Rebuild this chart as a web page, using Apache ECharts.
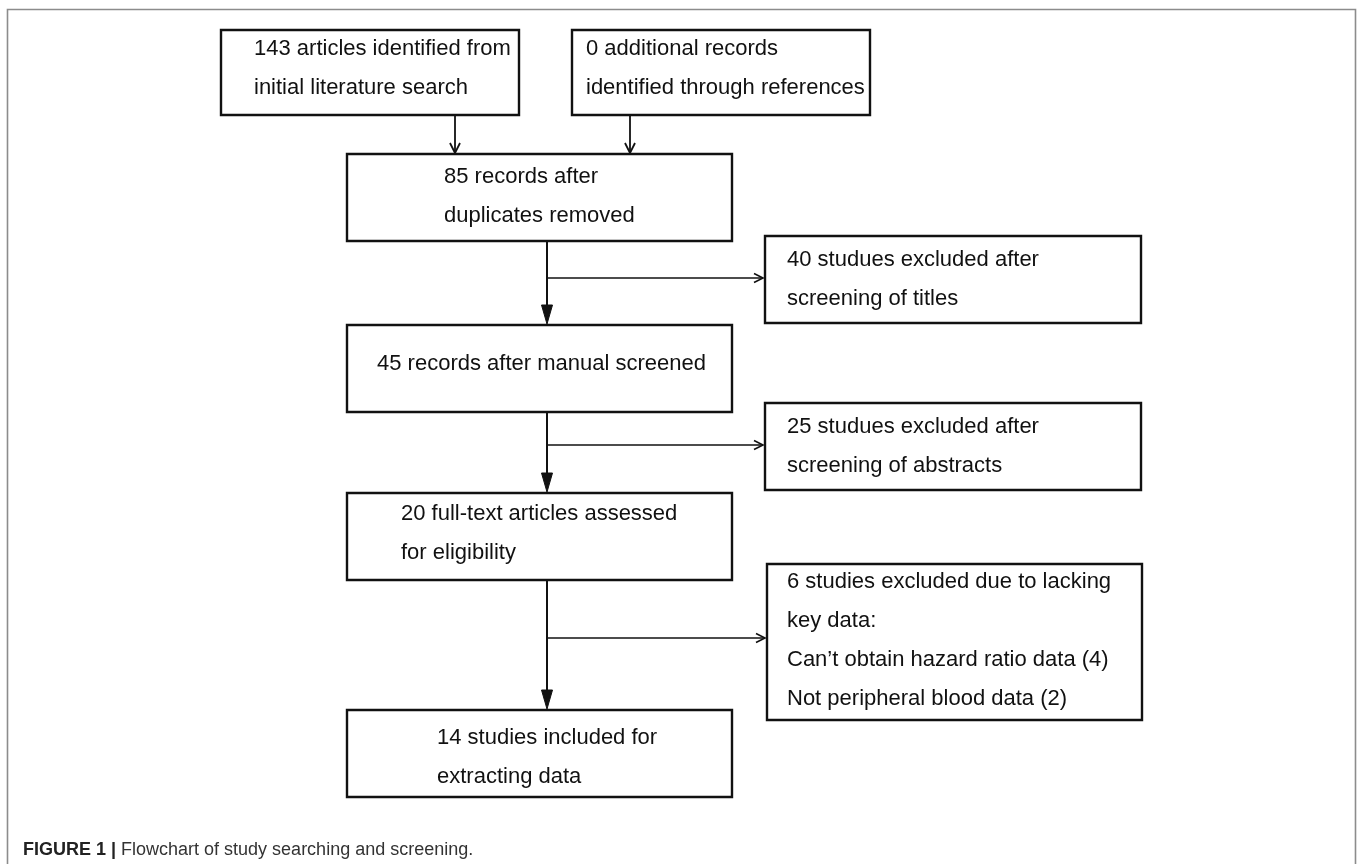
<!DOCTYPE html>
<html>
<head>
<meta charset="utf-8">
<script src="https://cdn.jsdelivr.net/npm/echarts@6/dist/echarts.min.js"></script>
<style>
html,body{margin:0;padding:0;background:#fff;}
#chart{width:1358px;height:864px;}
</style>
</head>
<body>
<div id="chart"></div>
<script>
// ---- content (data) ----
const counts = [143, 0, 85, 40, 45, 25, 20, 6, 14];
const boxLines = [
  ['143 articles identified from', 'initial literature search'],
  ['0 additional records', 'identified through references'],
  ['85 records after', 'duplicates removed'],
  ['40 studues excluded after', 'screening of titles'],
  ['45 records after manual screened'],
  ['25 studues excluded after', 'screening of abstracts'],
  ['20 full-text articles assessed', 'for eligibility'],
  ['6 studies excluded due to lacking', 'key data:', 'Can\u2019t obtain hazard ratio data (4)', 'Not peripheral blood data (2)'],
  ['14 studies included for', 'extracting data']
];
const captionBold = 'FIGURE 1 |';
const captionText = ' Flowchart of study searching and screening.';

// ---- layout (diagram geometry, px) ----
const W = 1358, H = 864;
// [x0, y0, x1, y1, textLeft, firstBaseline]
const boxLayout = [
  [221, 30, 519, 115, 254, 57],
  [572, 30, 870, 115, 586, 57],
  [347, 154, 732, 241, 444, 185],
  [765, 236, 1141, 323, 787, 268],
  [347, 325, 732, 412, 377, 372],
  [765, 403, 1141, 490, 787, 435],
  [347, 493, 732, 580, 401, 522],
  [767, 564, 1142, 720, 787, 590],
  [347, 710, 732, 797, 437, 746]
];
const lineGap = 38.8;
// arrows: points, head type
const arrowLayout = [
  {pts: [[455, 116], [455, 153]], head: 'open', L: 10, w: 5, lw: 1.8},
  {pts: [[630, 116], [630, 153]], head: 'open', L: 10, w: 5, lw: 1.8},
  {pts: [[547, 241], [547, 324]], head: 'filled', L: 19, w: 5.5, lw: 2},
  {pts: [[547, 412], [547, 492]], head: 'filled', L: 19, w: 5.5, lw: 2},
  {pts: [[547, 580], [547, 709]], head: 'filled', L: 19, w: 5.5, lw: 2},
  {pts: [[548, 278], [763, 278]], head: 'open', L: 9, w: 4.5, lw: 1.6},
  {pts: [[548, 445], [763, 445]], head: 'open', L: 9, w: 4.5, lw: 1.6},
  {pts: [[548, 638], [765, 638]], head: 'open', L: 9, w: 4.5, lw: 1.6}
];

const FONT = '"Liberation Sans", Arial, Helvetica, sans-serif';
const chart = echarts.init(document.getElementById('chart'), null, {renderer: 'canvas'});

function renderBox(params, api) {
  const i = params.dataIndex;
  const b = boxLayout[i];
  const p0 = api.coord([b[0], b[1]]);
  const p1 = api.coord([b[2], b[3]]);
  const children = [{
    type: 'rect',
    shape: {x: p0[0], y: p0[1], width: p1[0] - p0[0], height: p1[1] - p0[1]},
    style: {fill: '#fff', stroke: '#111', lineWidth: 2.4}
  }];
  boxLines[i].forEach((t, k) => {
    const tp = api.coord([b[4], b[5] + k * lineGap]);
    children.push({
      type: 'text',
      x: tp[0], y: tp[1] - 7.8,
      style: {text: t, fill: '#111', font: '22px ' + FONT, align: 'left', verticalAlign: 'middle'}
    });
  });
  return {type: 'group', children: children};
}

function renderArrow(params, api) {
  const a = arrowLayout[params.dataIndex];
  const pts = a.pts.map(p => api.coord(p));
  const n = pts.length;
  const tip = pts[n - 1], prev = pts[n - 2];
  let dx = tip[0] - prev[0], dy = tip[1] - prev[1];
  const len = Math.sqrt(dx * dx + dy * dy);
  dx /= len; dy /= len;
  const nx = -dy, ny = dx;
  const base = [tip[0] - dx * a.L, tip[1] - dy * a.L];
  const left = [base[0] + nx * a.w, base[1] + ny * a.w];
  const right = [base[0] - nx * a.w, base[1] - ny * a.w];
  const linePts = pts.slice();
  if (a.head === 'filled') linePts[n - 1] = base;
  const children = [{
    type: 'polyline',
    shape: {points: linePts},
    style: {stroke: '#111', lineWidth: a.lw, fill: null}
  }];
  if (a.head === 'filled') {
    children.push({type: 'polygon', shape: {points: [tip, left, right]}, style: {fill: '#111', stroke: '#111', lineWidth: 1}});
  } else {
    children.push({type: 'polyline', shape: {points: [left, tip, right]}, style: {stroke: '#111', lineWidth: a.lw, fill: null}});
  }
  return {type: 'group', children: children};
}

const option = {
  animation: false,
  backgroundColor: '#fff',
  grid: {left: 0, right: 0, top: 0, bottom: 0},
  xAxis: {type: 'value', min: 0, max: W, show: false},
  yAxis: {type: 'value', min: 0, max: H, inverse: true, show: false},
  title: {
    left: 23, top: 841, padding: 0,
    text: '{b|' + captionBold + '}{n|' + captionText + '}',
    textStyle: {
      fontWeight: 'normal',
      rich: {
        b: {fontFamily: FONT, fontSize: 18, fontWeight: 'bold', color: '#222'},
        n: {fontFamily: FONT, fontSize: 18, fontWeight: 'normal', color: '#333'}
      }
    }
  },
  graphic: [{
    type: 'rect',
    shape: {x: 7.5, y: 9.5, width: 1348, height: 900},
    style: {fill: null, stroke: '#8c8c8c', lineWidth: 1.6},
    silent: true, z: -1
  }],
  series: [
    {
      type: 'custom', name: 'arrows', coordinateSystem: 'cartesian2d', clip: false,
      renderItem: renderArrow,
      data: arrowLayout.map((a, i) => [a.pts[0][0], a.pts[0][1], i])
    },
    {
      type: 'custom', name: 'boxes', coordinateSystem: 'cartesian2d', clip: false,
      renderItem: renderBox,
      data: boxLayout.map((b, i) => [b[0], b[1], counts[i]])
    }
  ]
};
chart.setOption(option);
</script>
</body>
</html>
